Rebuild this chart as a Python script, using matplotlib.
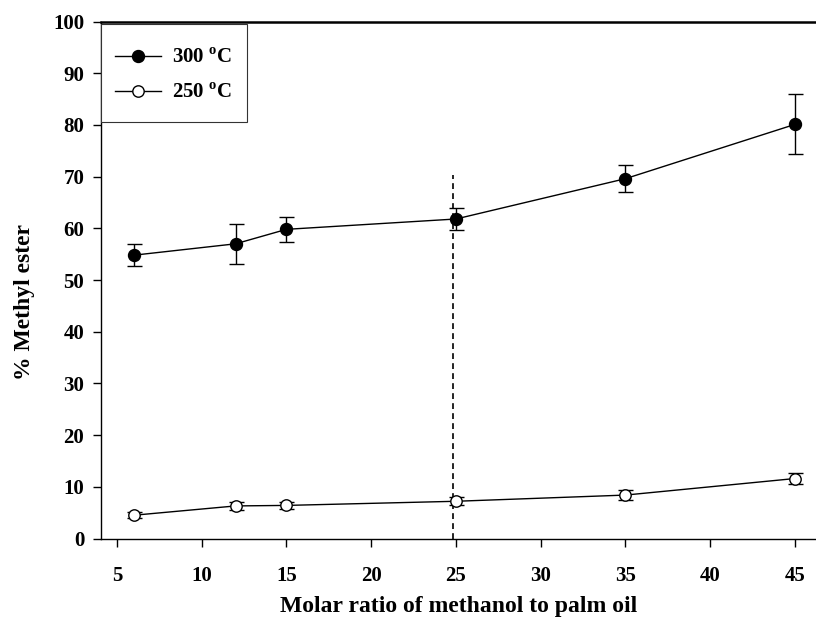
import matplotlib
matplotlib.use("Agg")
import matplotlib.pyplot as plt
from matplotlib.lines import Line2D
from matplotlib.patches import Rectangle

plt.rcParams['font.family'] = ['Liberation Serif', 'DejaVu Serif']
plt.rcParams['font.weight'] = 'bold'
plt.rcParams['mathtext.fontset'] = 'custom'
plt.rcParams['mathtext.rm'] = 'Liberation Serif:bold'
plt.rcParams['mathtext.bf'] = 'Liberation Serif:bold'

# molar ratio methanol : palm oil
ratio = [6, 12, 15, 25, 35, 45]

# methyl ester content (%) with error
me_300 = [54.8, 57.0, 59.8, 61.8, 69.6, 80.1]
err_300 = [2.1, 3.9, 2.4, 2.2, 2.6, 5.8]
me_250 = [4.5, 6.3, 6.4, 7.2, 8.4, 11.6]
err_250 = [0.6, 0.7, 0.7, 0.8, 0.9, 1.05]

labels = [r'300 $^{\mathbf{o}}$C', r'250 $^{\mathbf{o}}$C']

cut_x = 24.8
cut_top = 70.3

fig = plt.figure(figsize=(8.16, 6.24), dpi=100)
ax = fig.add_axes([101/816, 1 - 538.5/624, 1 - 101/816, (538.5 - 21.5)/624])

ax.errorbar(ratio, me_300, yerr=err_300, fmt='-o', color='black', lw=1.0,
            ms=8.6, mfc='black', mec='black', capsize=5.4, elinewidth=1.0,
            capthick=1.0, zorder=3)
ax.errorbar(ratio, me_250, yerr=err_250, fmt='-o', color='black', lw=1.0,
            ms=8.2, mfc='white', mec='black', mew=1.0, capsize=5.4,
            elinewidth=1.0, capthick=1.0, zorder=3)

ax.plot([cut_x, cut_x], [0, cut_top], color='black', lw=1.2,
        linestyle=(0, (3.5, 2.5)), zorder=2)

ax.set_xlim(4.06, 46.24)
ax.set_ylim(0, 100)
ax.set_xticks([5, 10, 15, 20, 25, 30, 35, 40, 45])
ax.set_yticks(range(0, 101, 10))
ax.tick_params(direction='out', length=6, width=1.0, labelsize=15)
ax.tick_params(axis='x', pad=14)
ax.tick_params(axis='y', pad=6)
for lab in ax.get_xticklabels() + ax.get_yticklabels():
    lab.set_fontweight('bold')

ax.spines['right'].set_visible(False)
for s in ['left', 'bottom']:
    ax.spines[s].set_linewidth(1.0)
ax.spines['top'].set_linewidth(1.8)

ax.set_xlabel('Molar ratio of methanol to palm oil', fontsize=17,
              fontweight='bold', labelpad=7)
ax.set_ylabel('% Methyl ester', fontsize=17, fontweight='bold')
ax.yaxis.set_label_coords(-0.092, 0.458)

# legend box drawn separately so its size can be set freely
ax.add_patch(Rectangle((0, 0.806), 0.204, 0.189, transform=ax.transAxes,
                       facecolor='white', edgecolor='#333333', lw=0.8,
                       zorder=5, clip_on=False))

handles = [
    Line2D([], [], color='black', lw=1.0, marker='o', ms=8.6,
           mfc='black', mec='black'),
    Line2D([], [], color='black', lw=1.0, marker='o', ms=8.2,
           mfc='white', mec='black'),
]
leg = ax.legend(handles, labels, loc='upper left',
                bbox_to_anchor=(0.0196, 0.948), borderaxespad=0,
                borderpad=0, frameon=False, fontsize=15, handlelength=2.2,
                handletextpad=0.55, labelspacing=0.72)
leg.set_zorder(6)
for t in leg.get_texts():
    t.set_fontweight('bold')

fig.savefig('out.png', dpi=100)
